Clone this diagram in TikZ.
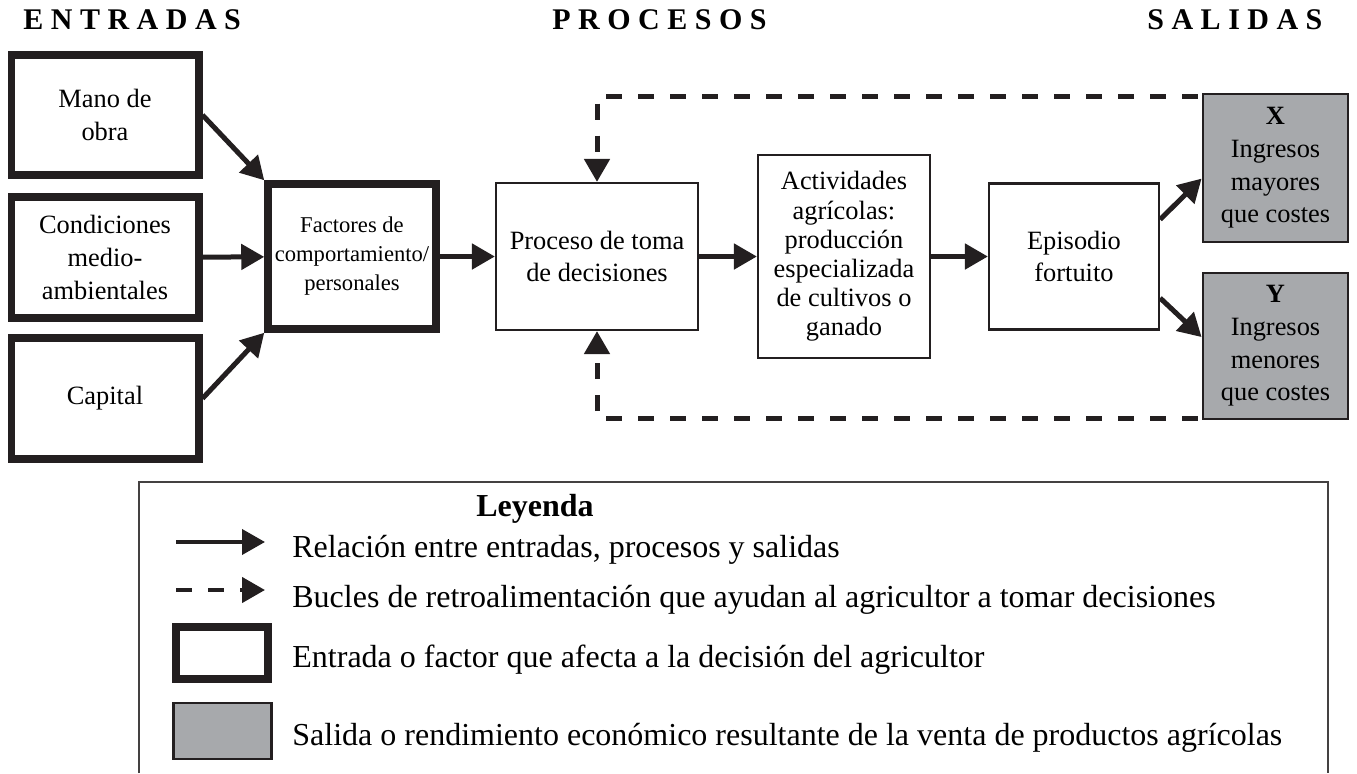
\documentclass[tikz,border=0pt]{standalone}
\usepackage{fontspec}
\setmainfont{Liberation Serif}
\usetikzlibrary{arrows.meta,calc}
\definecolor{ink}{RGB}{35,31,32}
\definecolor{salgris}{RGB}{167,169,172}
\begin{document}
\begin{tikzpicture}[x=0.5pt,y=-0.5pt,
                  txt/.style={align=center,inner sep=0pt,font=\fontsize{13.2}{16.3}\selectfont},
                  entrada/.style={txt,draw=ink,line width=3.75pt},
                  proceso/.style={txt,draw=ink,line width=1.1pt},
                  salida/.style={txt,draw=ink,line width=1.4pt,fill=salgris},
                  flow/.style={draw=ink,line width=2.5pt,-{Triangle[length=11.5pt,width=12.5pt]}},
                  feedback/.style={flow,dash pattern=on 8pt off 8pt},
                  cabecera/.style={anchor=base west,inner sep=0pt,font=\bfseries\fontsize{15}{18}\selectfont},
                  leyendatxt/.style={anchor=base west,inner sep=0pt,font=\fontsize{16}{19}\selectfont}]
                  \useasboundingbox (0,0) rectangle (1357,773);
                  % cabeceras
                  \node[cabecera] (hentradas) at (23,29) {E N T R A D A S};
                  \node[cabecera] (hprocesos) at (552,29) {P R O C E S O S};
                  \node[cabecera] (hsalidas) at (1147,29) {S A L I D A S};
                  % entradas
                  \node[entrada,minimum width=93.75pt,minimum height=60pt] (mano) at (105,115) {Mano de\\obra};
                  \node[entrada,minimum width=93.75pt,minimum height=60.5pt] (cond) at (105,257.5) {Condiciones\\medio-\\ambientales};
                  \node[entrada,minimum width=93.75pt,minimum height=60.5pt] (capital) at (105,398.5) {Capital};
                  \node[entrada,minimum width=84pt,minimum height=72.5pt,font=\fontsize{11.3}{14.5}\selectfont] (fact) at (352,256.5) {Factores de\\comportamiento/\\personales};
                  % procesos
                  \node[proceso,minimum width=101pt,minimum height=73.5pt] (proc) at (597,256.5) {Proceso de toma\\de decisiones};
                  \node[proceso,minimum width=86pt,minimum height=101.5pt,font=\fontsize{13.2}{14.6}\selectfont] (activ) at (844,256.5) {Actividades\\agrícolas:\\producción\\especializada\\de cultivos o\\ganado};
                  \node[proceso,minimum width=85pt,minimum height=73pt] (epis) at (1074,256.5) {Episodio\\fortuito};
                  % salidas
                  \node[salida,minimum width=72.5pt,minimum height=74pt] (xout) at (1275.5,168) {\textbf{X}\\Ingresos\\mayores\\que costes};
                  \node[salida,minimum width=72.5pt,minimum height=73pt] (yout) at (1275.5,346) {\textbf{Y}\\Ingresos\\menores\\que costes};
                  % relaciones
                  \draw[flow] (mano.east) -- (fact.north west);
                  \draw[flow] (cond) -- (fact);
                  \draw[flow] (capital.east) -- (fact.south west);
                  \draw[flow] (fact) -- (proc);
                  \draw[flow] (proc) -- (activ);
                  \draw[flow] (activ) -- (epis);
                  \draw[flow] ($(epis.north east)!0.25!(epis.south east)$) -- ($(xout.north west)!0.57!(xout.south west)$);
                  \draw[flow] ($(epis.north east)!0.78!(epis.south east)$) -- ($(yout.north west)!0.44!(yout.south west)$);
                  % bucles de retroalimentacion
                  \draw[feedback] ($(xout.north west)+(-4,3.5)$) -| (proc.north);
                  \draw[feedback] ($(yout.south west)+(-4,-2)$) -| (proc.south);
                  % leyenda
                  \draw[draw=ink!85,line width=0.6pt] (139,773) -- (139,482) -- (1328,482) -- (1328,773);
                  \node[anchor=base,inner sep=0pt,font=\bfseries\fontsize{16}{19}\selectfont] (leyenda) at (535,516) {Leyenda};
                  \coordinate (lg1a) at (176,542);
                  \coordinate (lg1b) at (265,542);
                  \coordinate (lg2a) at (176,590);
                  \coordinate (lg2b) at (265,590);
                  \draw[flow,line width=2pt] (lg1a) -- (lg1b);
                  \draw[feedback,line width=2.2pt] (lg2a) -- (lg2b);
                  \node[entrada,minimum width=46pt,minimum height=26pt] (lgent) at (222,653) {};
                  \node[salida,minimum width=49pt,minimum height=28pt] (lgsal) at (222.5,731) {};
                  \node[leyendatxt] (lt1) at (292,557) {Relación entre entradas, procesos y salidas};
                  \node[leyendatxt] (lt2) at (292,607) {Bucles de retroalimentación que ayudan al agricultor a tomar decisiones};
                  \node[leyendatxt] (lt3) at (292,667) {Entrada o factor que afecta a la decisión del agricultor};
                  \node[leyendatxt] (lt4) at (292,745) {Salida o rendimiento económico resultante de la venta de productos agrícolas};
              \end{tikzpicture}
\end{document}
